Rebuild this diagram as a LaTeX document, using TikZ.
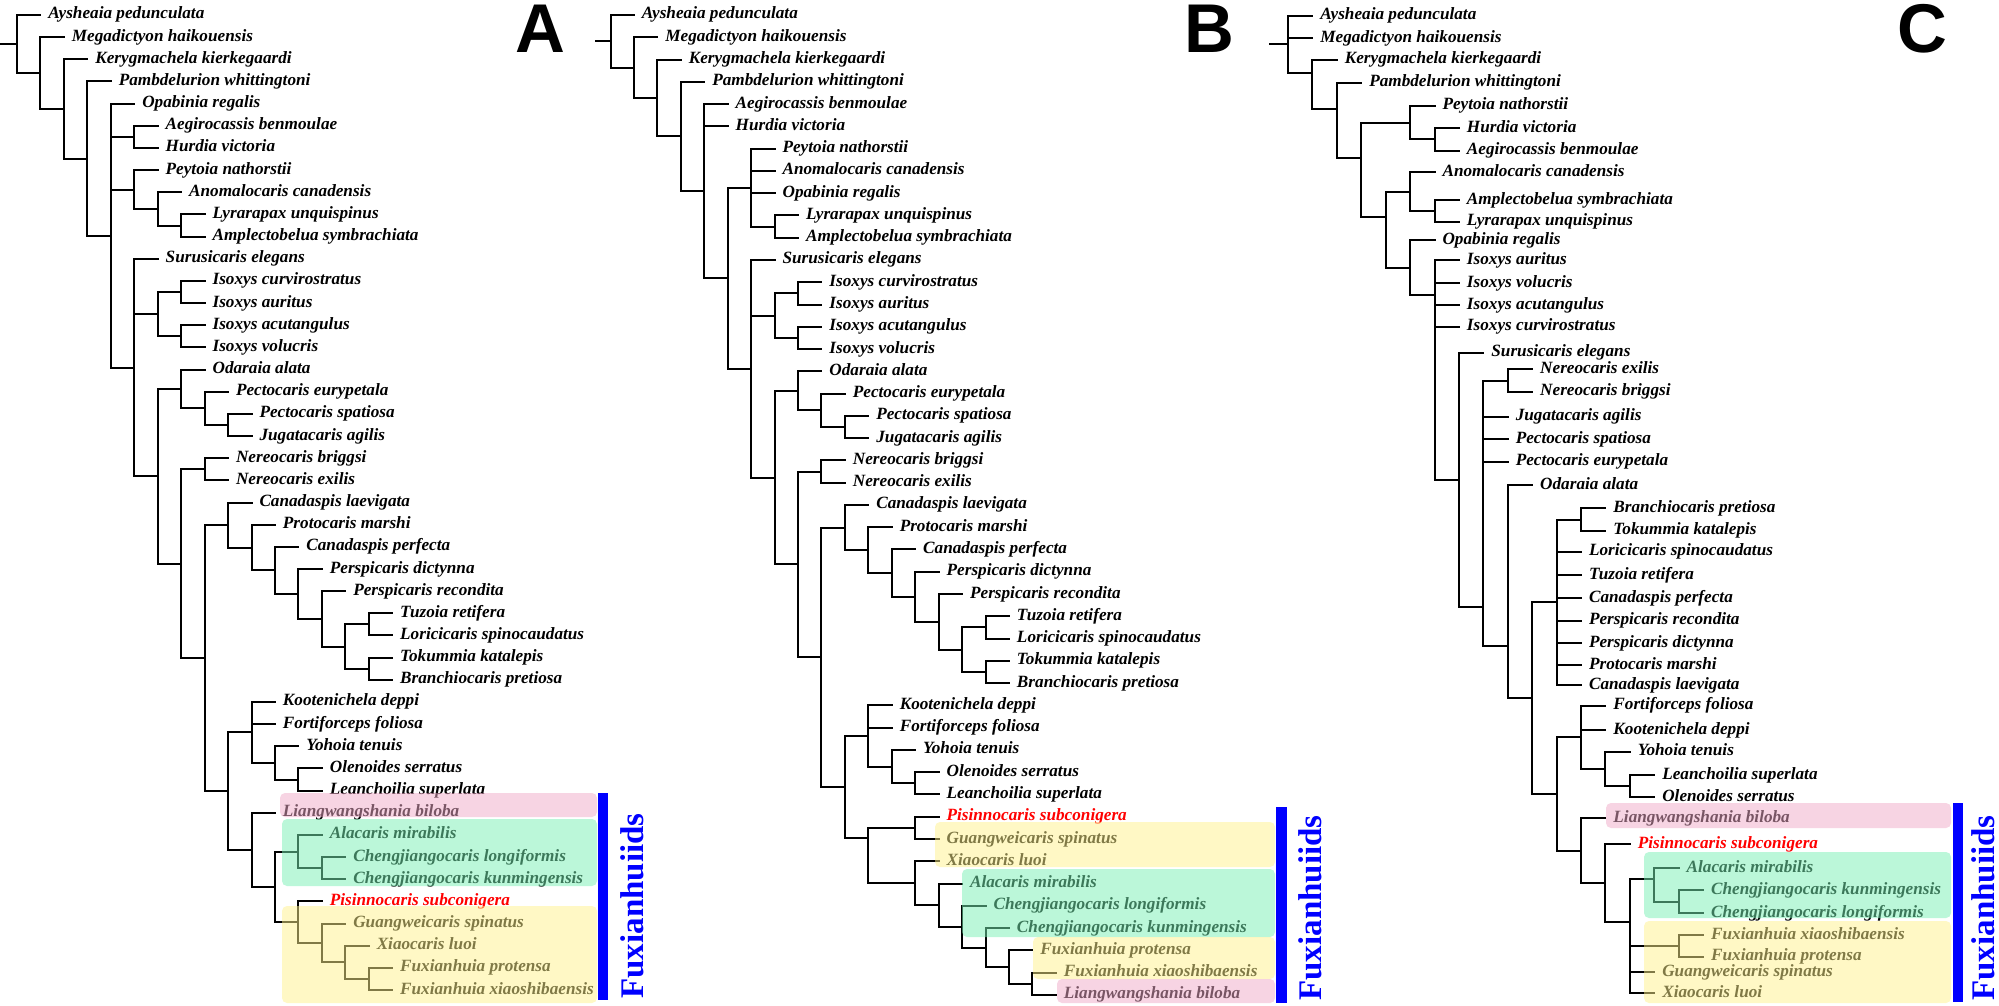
\documentclass[tikz,border=0pt]{standalone}
\usepackage{fontspec}
\setmainfont{Liberation Serif}
\setsansfont{Liberation Sans}
\usetikzlibrary{calc}
\definecolor{ovy}{RGB}{255,242,140}
\definecolor{ovg}{RGB}{120,240,180}
\definecolor{ovp}{RGB}{240,170,200}
\definecolor{fblue}{RGB}{0,0,255}
\newcommand\leaffont{\fontsize{17.2}{20}\selectfont\bfseries\itshape}
\newcommand\PX{0}\newcommand\PS{0}\newcommand\PY{0}\newcommand\PR{0}
\newcommand\lf[5][]{\node[leaf,#1] (#2) at ({\PX+#3*\PS},{\PY+(#4-1)*\PR}) {#5};}
\newcommand\lfy[5][]{\node[leaf,#1] (#2) at ({\PX+#3*\PS},#4) {#5};}
\newcommand\ed[2]{\foreach \cc in {#2} {\draw[br] (#1) |- (\cc);}}
\newcommand\cln[5]{\path let \p1=($(#3)!0.5!(#4)$) in ({(\PX+#2*\PS)*1pt},\y1) coordinate (#1);\ed{#1}{#5}}
\newcommand\clo[4]{\coordinate (#1) at ({\PX+#2*\PS},#3);\ed{#1}{#4}}
\tikzset{
  leaf/.style={anchor=west, inner xsep=8pt, inner ysep=0pt, outer sep=0pt, text height=12.4pt, text depth=4.4pt, font=\leaffont},
  pis/.style={text=red},
  br/.style={line width=2pt, line cap=rect},
  box/.style={fill opacity=0.5, rounded corners=5pt},
  plabel/.style={anchor=base west, inner sep=0pt, font=\fontsize{69}{69}\selectfont\sffamily\bfseries},
  fxlabel/.style={rotate=90, anchor=base, inner sep=0pt, text=fblue, font=\fontsize{33}{33}\selectfont\bfseries}
}
\begin{document}
\begin{tikzpicture}[x=1pt,y=-1pt]
\fill[white] (0,0) rectangle (1999,1006);
\useasboundingbox (0,0) rectangle (1999,1006);

% ================= Panel A =================
\renewcommand\PX{17}\renewcommand\PS{23.45}\renewcommand\PY{15}\renewcommand\PR{22.16}
\lf{a1}{1}{1}{Aysheaia pedunculata}
\lf{a2}{2}{2}{Megadictyon haikouensis}
\lf{a3}{3}{3}{Kerygmachela kierkegaardi}
\lf{a4}{4}{4}{Pambdelurion whittingtoni}
\lf{a5}{5}{5}{Opabinia regalis}
\lf{a6}{6}{6}{Aegirocassis benmoulae}
\lf{a7}{6}{7}{Hurdia victoria}
\lf{a8}{6}{8}{Peytoia nathorstii}
\lf{a9}{7}{9}{Anomalocaris canadensis}
\lf{a10}{8}{10}{Lyrarapax unquispinus}
\lf{a11}{8}{11}{Amplectobelua symbrachiata}
\lf{a12}{6}{12}{Surusicaris elegans}
\lf{a13}{8}{13}{Isoxys curvirostratus}
\lf{a14}{8}{14}{Isoxys auritus}
\lf{a15}{8}{15}{Isoxys acutangulus}
\lf{a16}{8}{16}{Isoxys volucris}
\lf{a17}{8}{17}{Odaraia alata}
\lf{a18}{9}{18}{Pectocaris eurypetala}
\lf{a19}{10}{19}{Pectocaris spatiosa}
\lf{a20}{10}{20}{Jugatacaris agilis}
\lf{a21}{9}{21}{Nereocaris briggsi}
\lf{a22}{9}{22}{Nereocaris exilis}
\lf{a23}{10}{23}{Canadaspis laevigata}
\lf{a24}{11}{24}{Protocaris marshi}
\lf{a25}{12}{25}{Canadaspis perfecta}
\lf{a26}{13}{26}{Perspicaris dictynna}
\lf{a27}{14}{27}{Perspicaris recondita}
\lf{a28}{16}{28}{Tuzoia retifera}
\lf{a29}{16}{29}{Loricicaris spinocaudatus}
\lf{a30}{16}{30}{Tokummia katalepis}
\lf{a31}{16}{31}{Branchiocaris pretiosa}
\lf{a32}{11}{32}{Kootenichela deppi}
\lf{a33}{11}{33}{Fortiforceps foliosa}
\lf{a34}{12}{34}{Yohoia tenuis}
\lf{a35}{13}{35}{Olenoides serratus}
\lf{a36}{13}{36}{Leanchoilia superlata}
\lf{a37}{11}{37}{Liangwangshania biloba}
\lf{a38}{13}{38}{Alacaris mirabilis}
\lf{a39}{14}{39}{Chengjiangocaris longiformis}
\lf{a40}{14}{40}{Chengjiangocaris kunmingensis}
\lf[pis]{a41}{13}{41}{Pisinnocaris subconigera}
\lf{a42}{14}{42}{Guangweicaris spinatus}
\lf{a43}{15}{43}{Xiaocaris luoi}
\lf{a44}{16}{44}{Fuxianhuia protensa}
\lf{a45}{16}{45}{Fuxianhuia xiaoshibaensis}

\cln{aF5}{15}{a44}{a45}{a44,a45}
\cln{aF4}{14}{a43}{aF5}{a43,aF5}
\cln{aF3}{13}{a42}{aF4}{a42,aF4}
\cln{aF2}{12}{a41}{aF3}{a41,aF3}
\cln{aCh}{13}{a39}{a40}{a39,a40}
\cln{aAl}{12}{a38}{aCh}{a38,aCh}
\cln{aF1}{11}{aAl}{aF2}{aAl,aF2}
\cln{aFx}{10}{a37}{aF1}{a37,aF1}
\cln{aOL}{12}{a35}{a36}{a35,a36}
\cln{aYo}{11}{a34}{aOL}{a34,aOL}
\cln{aKo}{10}{a32}{aYo}{a32,a33,aYo}
\cln{aR9}{9}{aKo}{aFx}{aKo,aFx}
\cln{aTB}{15}{a30}{a31}{a30,a31}
\cln{aTL}{15}{a28}{a29}{a28,a29}
\cln{aC6}{14}{aTL}{aTB}{aTL,aTB}
\cln{aC5}{13}{a27}{aC6}{a27,aC6}
\cln{aC4}{12}{a26}{aC5}{a26,aC5}
\cln{aC3}{11}{a25}{aC4}{a25,aC4}
\cln{aC2}{10}{a24}{aC3}{a24,aC3}
\cln{aCa}{9}{a23}{aC2}{a23,aC2}
\cln{aQ}{8}{aCa}{aR9}{aCa,aR9}
\cln{aNe}{8}{a21}{a22}{a21,a22}
\cln{aP}{7}{aNe}{aQ}{aNe,aQ}
\cln{aPJ}{9}{a19}{a20}{a19,a20}
\cln{aPe}{8}{a18}{aPJ}{a18,aPJ}
\cln{aOd}{7}{a17}{aPe}{a17,aPe}
\cln{aM}{6}{aOd}{aP}{aOd,aP}
\cln{aIs2}{7}{a15}{a16}{a15,a16}
\cln{aIs1}{7}{a13}{a14}{a13,a14}
\cln{aIso}{6}{aIs1}{aIs2}{aIs1,aIs2}
\cln{aN6}{5}{a12}{aM}{a12,aIso,aM}
\cln{aLA}{7}{a10}{a11}{a10,a11}
\cln{aAno}{6}{a9}{aLA}{a9,aLA}
\cln{aPey}{5}{a8}{aAno}{a8,aAno}
\cln{aAH}{5}{a6}{a7}{a6,a7}
\cln{aN5}{4}{a5}{aN6}{a5,aAH,aPey,aN6}
\cln{aN4}{3}{a4}{aN5}{a4,aN5}
\cln{aN3}{2}{a3}{aN4}{a3,aN4}
\cln{aN2}{1}{a2}{aN3}{a2,aN3}
\cln{aR}{0}{a1}{aN2}{a1,aN2}
\coordinate (aS) at ($(aR)+(-17,0)$);
\draw[br] (aS) -- (aR);

\fill[ovp,box] (280,793) rectangle (597,817);
\fill[ovg,box] (282,819) rectangle (597,886);
\fill[ovy,box] (282,906) rectangle (597,1003);
\fill[fblue] (598,793) rectangle (608,1000);
\node[fxlabel] (fxA) at (643,906) {Fuxianhuiids};
\node[plabel] (labA) at (515,53) {A};

% ================= Panel B =================
\renewcommand\PX{610.5}\renewcommand\PS{23.44}\renewcommand\PY{15}\renewcommand\PR{22.27}
\lf{b1}{1}{1}{Aysheaia pedunculata}
\lf{b2}{2}{2}{Megadictyon haikouensis}
\lf{b3}{3}{3}{Kerygmachela kierkegaardi}
\lf{b4}{4}{4}{Pambdelurion whittingtoni}
\lf{b5}{5}{5}{Aegirocassis benmoulae}
\lf{b6}{5}{6}{Hurdia victoria}
\lf{b7}{7}{7}{Peytoia nathorstii}
\lf{b8}{7}{8}{Anomalocaris canadensis}
\lf{b9}{7}{9}{Opabinia regalis}
\lf{b10}{8}{10}{Lyrarapax unquispinus}
\lf{b11}{8}{11}{Amplectobelua symbrachiata}
\lf{b12}{7}{12}{Surusicaris elegans}
\lf{b13}{9}{13}{Isoxys curvirostratus}
\lf{b14}{9}{14}{Isoxys auritus}
\lf{b15}{9}{15}{Isoxys acutangulus}
\lf{b16}{9}{16}{Isoxys volucris}
\lf{b17}{9}{17}{Odaraia alata}
\lf{b18}{10}{18}{Pectocaris eurypetala}
\lf{b19}{11}{19}{Pectocaris spatiosa}
\lf{b20}{11}{20}{Jugatacaris agilis}
\lf{b21}{10}{21}{Nereocaris briggsi}
\lf{b22}{10}{22}{Nereocaris exilis}
\lf{b23}{11}{23}{Canadaspis laevigata}
\lf{b24}{12}{24}{Protocaris marshi}
\lf{b25}{13}{25}{Canadaspis perfecta}
\lf{b26}{14}{26}{Perspicaris dictynna}
\lf{b27}{15}{27}{Perspicaris recondita}
\lf{b28}{17}{28}{Tuzoia retifera}
\lf{b29}{17}{29}{Loricicaris spinocaudatus}
\lf{b30}{17}{30}{Tokummia katalepis}
\lf{b31}{17}{31}{Branchiocaris pretiosa}
\lf{b32}{12}{32}{Kootenichela deppi}
\lf{b33}{12}{33}{Fortiforceps foliosa}
\lf{b34}{13}{34}{Yohoia tenuis}
\lf{b35}{14}{35}{Olenoides serratus}
\lf{b36}{14}{36}{Leanchoilia superlata}
\lf[pis]{b37}{14}{37}{Pisinnocaris subconigera}
\lf{b38}{14}{38}{Guangweicaris spinatus}
\lf{b39}{14}{39}{Xiaocaris luoi}
\lf{b40}{15}{40}{Alacaris mirabilis}
\lf{b41}{16}{41}{Chengjiangocaris longiformis}
\lf{b42}{17}{42}{Chengjiangocaris kunmingensis}
\lf{b43}{18}{43}{Fuxianhuia protensa}
\lf{b44}{19}{44}{Fuxianhuia xiaoshibaensis}
\lf{b45}{19}{45}{Liangwangshania biloba}

\cln{bZ6}{18}{b44}{b45}{b44,b45}
\cln{bZ5}{17}{b43}{bZ6}{b43,bZ6}
\cln{bZ4}{16}{b42}{bZ5}{b42,bZ5}
\cln{bZ3}{15}{b41}{bZ4}{b41,bZ4}
\cln{bZ2}{14}{b40}{bZ3}{b40,bZ3}
\cln{bZ}{13}{b39}{bZ2}{b39,bZ2}
\cln{bPG}{13}{b37}{b38}{b37,b38}
\clo{bFx}{11}{838}{bPG,bZ}
\cln{bOL}{13}{b35}{b36}{b35,b36}
\cln{bYo}{12}{b34}{bOL}{b34,bOL}
\cln{bKo}{11}{b32}{bYo}{b32,b33,bYo}
\cln{bY}{10}{bKo}{bFx}{bKo,bFx}
\cln{bTB}{16}{b30}{b31}{b30,b31}
\cln{bTL}{16}{b28}{b29}{b28,b29}
\cln{bC6}{15}{bTL}{bTB}{bTL,bTB}
\cln{bC5}{14}{b27}{bC6}{b27,bC6}
\cln{bC4}{13}{b26}{bC5}{b26,bC5}
\cln{bC3}{12}{b25}{bC4}{b25,bC4}
\cln{bC2}{11}{b24}{bC3}{b24,bC3}
\cln{bCa}{10}{b23}{bC2}{b23,bC2}
\cln{bQ}{9}{bCa}{bY}{bCa,bY}
\cln{bNe}{9}{b21}{b22}{b21,b22}
\cln{bP}{8}{bNe}{bQ}{bNe,bQ}
\cln{bPJ}{10}{b19}{b20}{b19,b20}
\cln{bPe}{9}{b18}{bPJ}{b18,bPJ}
\cln{bOd}{8}{b17}{bPe}{b17,bPe}
\cln{bM}{7}{bOd}{bP}{bOd,bP}
\cln{bIs2}{8}{b15}{b16}{b15,b16}
\cln{bIs1}{8}{b13}{b14}{b13,b14}
\cln{bIso}{7}{bIs1}{bIs2}{bIs1,bIs2}
\cln{bSu}{6}{b12}{bM}{b12,bIso,bM}
\cln{bLA}{7}{b10}{b11}{b10,b11}
\cln{bPey}{6}{b7}{bLA}{b7,b8,b9,bLA}
\cln{bN6}{5}{bPey}{bSu}{bPey,bSu}
\cln{bN5}{4}{b5}{bN6}{b5,b6,bN6}
\cln{bN4}{3}{b4}{bN5}{b4,bN5}
\cln{bN3}{2}{b3}{bN4}{b3,bN4}
\cln{bN2}{1}{b2}{bN3}{b2,bN3}
\cln{bR}{0}{b1}{bN2}{b1,bN2}
\coordinate (bS) at ($(bR)+(-15,0)$);
\draw[br] (bS) -- (bR);

\fill[ovy,box] (935,822) rectangle (1275,867);
\fill[ovg,box] (962,869) rectangle (1275,937);
\fill[ovy,box] (1033,937) rectangle (1275,979);
\fill[ovp,box] (1057,979) rectangle (1275,1003);
\fill[fblue] (1276,807) rectangle (1287,1003);
\node[fxlabel] (fxB) at (1321,908) {Fuxianhuiids};
\node[plabel] (labB) at (1184,53) {B};

% ================= Panel C =================
\renewcommand\PX{1288}\renewcommand\PS{24.42}
\lfy{c1}{1}{15.7}{Aysheaia pedunculata}
\lfy{c2}{1}{38.3}{Megadictyon haikouensis}
\lfy{c3}{2}{60}{Kerygmachela kierkegaardi}
\lfy{c4}{3}{82.7}{Pambdelurion whittingtoni}
\lfy{c5}{6}{106}{Peytoia nathorstii}
\lfy{c6}{7}{128.3}{Hurdia victoria}
\lfy{c7}{7}{150.7}{Aegirocassis benmoulae}
\lfy{c8}{6}{172.3}{Anomalocaris canadensis}
\lfy{c9}{7}{200}{Amplectobelua symbrachiata}
\lfy{c10}{7}{221.7}{Lyrarapax unquispinus}
\lfy{c11}{6}{240}{Opabinia regalis}
\lfy{c12}{7}{260}{Isoxys auritus}
\lfy{c13}{7}{283.3}{Isoxys volucris}
\lfy{c14}{7}{305}{Isoxys acutangulus}
\lfy{c15}{7}{326.7}{Isoxys curvirostratus}
\lfy{c16}{8}{352.7}{Surusicaris elegans}
\lfy{c17}{10}{369.3}{Nereocaris exilis}
\lfy{c18}{10}{391.7}{Nereocaris briggsi}
\lfy{c19}{9}{416.7}{Jugatacaris agilis}
\lfy{c20}{9}{439}{Pectocaris spatiosa}
\lfy{c21}{9}{461.7}{Pectocaris eurypetala}
\lfy{c22}{10}{485}{Odaraia alata}
\lfy{c23}{13}{508.3}{Branchiocaris pretiosa}
\lfy{c24}{13}{530.7}{Tokummia katalepis}
\lfy{c25}{12}{551.7}{Loricicaris spinocaudatus}
\lfy{c26}{12}{575}{Tuzoia retifera}
\lfy{c27}{12}{598.3}{Canadaspis perfecta}
\lfy{c28}{12}{620.7}{Perspicaris recondita}
\lfy{c29}{12}{643.3}{Perspicaris dictynna}
\lfy{c30}{12}{665}{Protocaris marshi}
\lfy{c31}{12}{685}{Canadaspis laevigata}
\lfy{c32}{13}{705.7}{Fortiforceps foliosa}
\lfy{c33}{13}{730}{Kootenichela deppi}
\lfy{c34}{14}{751.7}{Yohoia tenuis}
\lfy{c35}{15}{775}{Leanchoilia superlata}
\lfy{c36}{15}{797.3}{Olenoides serratus}
\lfy{c37}{13}{818.3}{Liangwangshania biloba}
\lfy[pis]{c38}{14}{844.3}{Pisinnocaris subconigera}
\lfy{c39}{16}{868.3}{Alacaris mirabilis}
\lfy{c40}{17}{890}{Chengjiangocaris kunmingensis}
\lfy{c41}{17}{913.3}{Chengjiangocaris longiformis}
\lfy{c42}{17}{935}{Fuxianhuia xiaoshibaensis}
\lfy{c43}{17}{956.7}{Fuxianhuia protensa}
\lfy{c44}{15}{972.3}{Guangweicaris spinatus}
\lfy{c45}{15}{993.3}{Xiaocaris luoi}

\cln{cFP}{16}{c42}{c43}{c42,c43}
\cln{cCh}{16}{c40}{c41}{c40,c41}
\clo{cAl}{15}{879}{c39,cCh}
\clo{cF2}{14}{922}{cAl,cFP,c44,c45}
\cln{cF1}{13}{c38}{cF2}{c38,cF2}
\cln{cFx}{12}{c37}{cF1}{c37,cF1}
\cln{cLO}{14}{c35}{c36}{c35,c36}
\cln{cYo}{13}{c34}{cLO}{c34,cLO}
\cln{cKo}{12}{c32}{cYo}{c32,c33,cYo}
\cln{cL}{11}{cKo}{cFx}{cKo,cFx}
\cln{cBT}{12}{c23}{c24}{c23,c24}
\cln{cCa}{11}{cBT}{c31}{cBT,c25,c26,c27,c28,c29,c30,c31}
\cln{cK}{10}{cCa}{cL}{cCa,cL}
\clo{cOd}{9}{646}{c22,cK}
\cln{cNe}{9}{c17}{c18}{c17,c18}
\clo{cJ}{8}{607}{cNe,c19,c20,c21,cOd}
\cln{cSu}{7}{c16}{cJ}{c16,cJ}
\clo{cIs}{6}{295}{c12,c13,c14,c15,cSu}
\cln{cOp}{5}{c11}{cIs}{c11,cIs}
\cln{cAL}{6}{c9}{c10}{c9,c10}
\cln{cAn}{5}{c8}{cAL}{c8,cAL}
\clo{cB}{4}{217}{cAn,cOp}
\cln{cHA}{6}{c6}{c7}{c6,c7}
\cln{cPey}{5}{c5}{cHA}{c5,cHA}
\clo{cN4}{3}{158}{cPey,cB}
\clo{cN3}{2}{109}{c4,cN4}
\clo{cN2}{1}{73}{c3,cN3}
\cln{cR}{0}{c1}{cN2}{c1,c2,cN2}
\coordinate (cS) at ($(cR)+(-18,0)$);
\draw[br] (cS) -- (cR);

\fill[ovp,box] (1606,803) rectangle (1951,828);
\fill[ovg,box] (1644,852) rectangle (1951,918);
\fill[ovy,box] (1644,921) rectangle (1951,1003);
\fill[fblue] (1953,803) rectangle (1963,1002);
\node[fxlabel] (fxC) at (1994,908) {Fuxianhuiids};
\node[plabel] (labC) at (1897,53) {C};
\end{tikzpicture}
\end{document}
